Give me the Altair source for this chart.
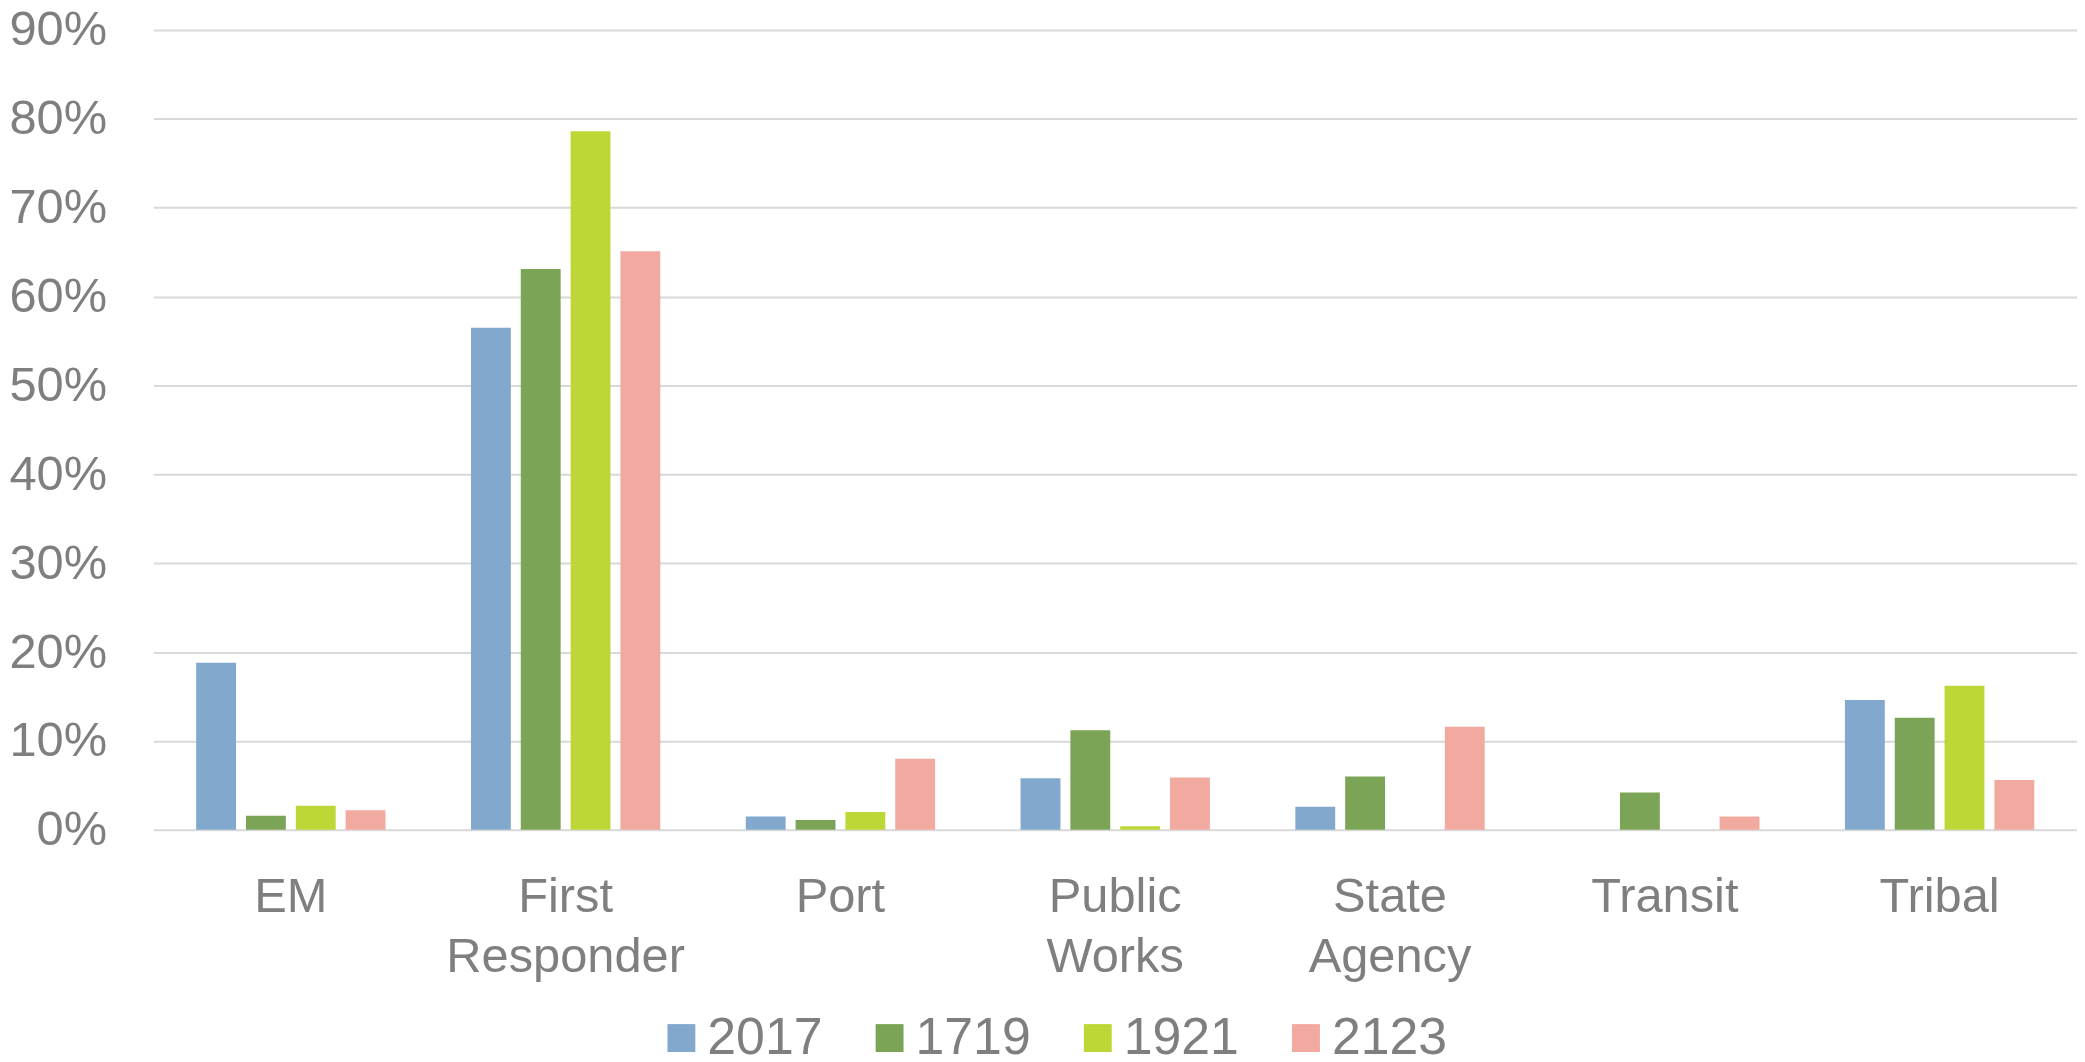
import altair as alt
import pandas as pd

categories = ["EM", "First Responder", "Port", "Public Works", "State Agency", "Transit", "Tribal"]
series = ["2017", "1719", "1921", "2123"]
v2017 = [18.8, 56.5, 1.5, 5.8, 2.6, 0.0, 14.6]
v1719 = [1.6, 63.1, 1.1, 11.2, 6.0, 4.2, 12.6]
v1921 = [2.7, 78.6, 2.0, 0.4, 0.0, 0.0, 16.2]
v2123 = [2.2, 65.1, 8.0, 5.9, 11.6, 1.5, 5.6]
colors = ["#82A8CE", "#7BA456", "#BDD736", "#F2A9A0"]
y_ticks = [0.0, 0.1, 0.2, 0.3, 0.4, 0.5, 0.6, 0.7, 0.8, 0.9]

rows = []
for s, vals in zip(series, [v2017, v1719, v1921, v2123]):
    for c, v in zip(categories, vals):
        rows.append({"category": c, "series": s, "value": v / 100.0})
df = pd.DataFrame(rows)

FONT = "Liberation Sans"
GREY = "#7f7f7f"

chart = alt.Chart(df).mark_bar().encode(
    x=alt.X(
        "category:N",
        sort=categories,
        scale=alt.Scale(paddingInner=0.311, paddingOuter=0.1555),
        axis=alt.Axis(
            title=None,
            labelAngle=0,
            labelExpr="split(datum.label, ' ')",
            labelFontSize=49,
            labelFont=FONT,
            labelColor=GREY,
            labelLineHeight=60,
            labelPadding=43,
            labelBaseline="top",
            labelOverlap=False,
            labelLimit=0,
            ticks=False,
            tickSize=0,
            domain=False,
            grid=False,
        ),
    ),
    xOffset=alt.XOffset(
        "series:N", sort=series, scale=alt.Scale(paddingInner=0.2, paddingOuter=0)
    ),
    y=alt.Y(
        "value:Q",
        scale=alt.Scale(domain=[0, 0.9], nice=False),
        axis=alt.Axis(
            title=None,
            format=".0%",
            values=y_ticks,
            labelFontSize=49,
            labelFont=FONT,
            labelColor=GREY,
            labelPadding=47,
            ticks=False,
            tickSize=0,
            domain=False,
            grid=True,
            gridColor="#d9d9d9",
            gridWidth=2,
        ),
    ),
    color=alt.Color(
        "series:N",
        sort=series,
        scale=alt.Scale(domain=series, range=colors),
        legend=alt.Legend(
            title=None,
            orient="none",
            legendX=504,
            legendY=986,
            direction="horizontal",
            columns=4,
            symbolType="square",
            symbolSize=784,
            symbolStrokeWidth=0,
            symbolOpacity=1,
            labelFontSize=52,
            labelFont=FONT,
            labelColor=GREY,
            labelOffset=0,
            columnPadding=41,
            padding=0,
        ),
    ),
).properties(
    width=1931,
    height=803,
    padding={"left": 146, "top": 20, "right": 0, "bottom": 229},
    autosize=alt.AutoSizeParams(type="none"),
    background="white",
).configure_view(stroke=None)

chart.save("out.html", embed_options={"renderer": "svg", "actions": False})
